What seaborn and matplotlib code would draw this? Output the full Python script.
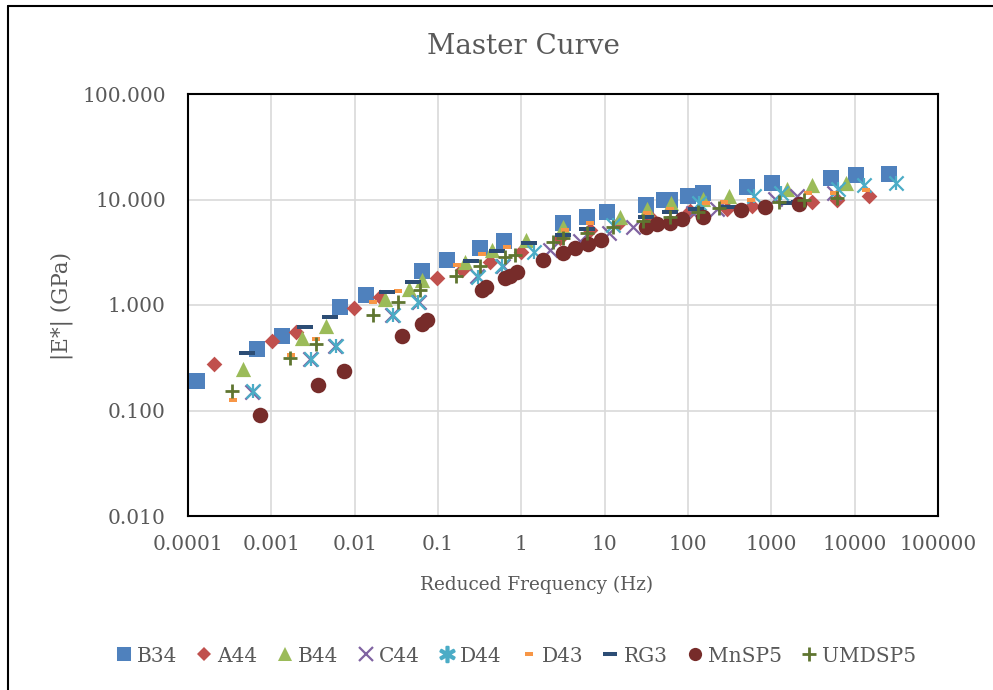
import numpy as np
import pandas as pd
import matplotlib
matplotlib.use('Agg')
import matplotlib.pyplot as plt
from matplotlib.lines import Line2D
import seaborn as sns

# reduced frequency (Hz) and |E*| (GPa) for each mix
b34_f = [1.3e-4, 6.7e-4, 1.33e-3, 6.6e-3, 0.0135, 0.065, 0.129, 0.32, 0.62, 3.15, 6.1, 10.6,
         31, 51, 61.5, 101, 153, 513, 1020, 5190, 10300, 25700]
b34_e = [0.19, 0.38, 0.51, 0.95, 1.24, 2.08, 2.65, 3.44, 4.0, 5.93, 6.76, 7.54,
         8.78, 9.8, 9.8, 10.7, 11.4, 13.0, 14.2, 16.1, 16.9, 17.6]

a44_f = [2.05e-4, 1.01e-3, 1.96e-3, 0.00995, 0.0204, 0.098, 0.195, 0.42, 1.0, 2.9, 6.6,
         15, 35, 105, 295, 590, 3100, 6200, 14800]
a44_e = [0.275, 0.454, 0.56, 0.93, 1.18, 1.79, 2.13, 2.54, 3.15, 4.3, 5.1,
         6.05, 6.9, 7.7, 8.2, 8.6, 9.4, 9.8, 10.7]

b44_f = [4.55e-4, 2.31e-3, 4.48e-3, 0.0233, 0.0453, 0.065, 0.211, 0.445, 1.13, 3.15,
         15.1, 31.8, 63, 153, 313, 1545, 3080, 7850]
b44_e = [0.247, 0.484, 0.63, 1.13, 1.41, 1.71, 2.54, 3.29, 4.1, 5.43,
         6.9, 8.04, 9.17, 10.2, 10.9, 12.7, 13.6, 14.2]

c44_f = [5.8e-4, 2.88e-3, 5.73e-3, 0.0283, 0.0596, 0.294, 0.603, 2.2, 5.0, 11.2, 21.6,
         116, 225, 1110, 2040, 5620]
c44_e = [0.149, 0.306, 0.407, 0.80, 1.06, 1.87, 2.32, 3.29, 4.0, 4.77, 5.43,
         7.38, 8.04, 10.2, 10.9, 11.6]

d44_f = [6.0e-4, 2.96e-3, 5.9e-3, 0.0291, 0.058, 0.303, 0.586, 1.42, 12.5, 137, 622,
         1310, 6300, 12900, 31100]
d44_e = [0.153, 0.306, 0.407, 0.80, 1.06, 1.83, 2.32, 3.15, 5.68, 9.17, 10.7,
         11.4, 12.7, 13.6, 14.2]

d43_f = [3.45e-4, 1.71e-3, 3.4e-3, 0.0168, 0.0334, 0.17, 0.338, 0.673, 3.33, 6.62,
         31.8, 61.5, 166, 272, 573, 2760, 5630, 13600]
d43_e = [0.125, 0.334, 0.473, 1.06, 1.35, 2.38, 3.02, 3.52, 5.09, 5.93,
         7.38, 8.04, 9.17, 9.37, 10.0, 11.4, 11.6, 12.2]

rg3_f = [5.08e-4, 2.51e-3, 5.0e-3, 0.0247, 0.0505, 0.249, 0.51, 1.23, 3.15, 6.1,
         31, 61.5, 126, 313, 1545, 2150]
rg3_e = [0.349, 0.615, 0.765, 1.32, 1.64, 2.59, 3.22, 3.84, 4.56, 5.2,
         6.76, 7.54, 8.04, 8.4, 9.17, 9.37]

mnsp5_f = [7.26e-4, 3.59e-3, 7.35e-3, 0.0373, 0.0647, 0.0743, 0.338, 0.378, 0.637, 0.73,
           0.885, 1.81, 3.15, 4.38, 6.26, 8.96, 31, 41.9, 61.5, 85.7, 153, 435, 844, 2150]
mnsp5_e = [0.0904, 0.174, 0.236, 0.506, 0.657, 0.716, 1.38, 1.47, 1.79, 1.87,
           2.04, 2.65, 3.08, 3.44, 3.75, 4.09, 5.43, 5.8, 6.05, 6.47, 6.9, 7.87, 8.4, 8.97]

umdsp5_f = [3.36e-4, 1.66e-3, 3.4e-3, 0.0168, 0.0334, 0.0612, 0.165, 0.32, 0.637, 0.838,
            2.39, 3.15, 6.1, 12.5, 28.5, 61.5, 133, 238, 1240, 2470, 6120]
umdsp5_e = [0.153, 0.313, 0.425, 0.80, 1.06, 1.38, 1.87, 2.32, 2.82, 2.95,
            3.92, 4.27, 4.77, 5.43, 6.19, 6.9, 7.69, 8.22, 9.57, 10.0, 10.4]

series_names = ['B34', 'A44', 'B44', 'C44', 'D44', 'D43', 'RG3', 'MnSP5', 'UMDSP5']
series_f = [b34_f, a44_f, b44_f, c44_f, d44_f, d43_f, rg3_f, mnsp5_f, umdsp5_f]
series_e = [b34_e, a44_e, b44_e, c44_e, d44_e, d43_e, rg3_e, mnsp5_e, umdsp5_e]

x_ticks = [1e-4, 1e-3, 1e-2, 1e-1, 1, 10, 100, 1000, 10000, 100000]
x_ticklabels = ['0.0001', '0.001', '0.01', '0.1', '1', '10', '100', '1000', '10000', '100000']
y_ticks = [0.01, 0.1, 1, 10, 100]
y_ticklabels = ['0.010', '0.100', '1.000', '10.000', '100.000']

# marker styles (Excel 2010 palette / default marker cycle)
long_dash = [(-1, -0.25), (1, -0.25), (1, 0.25), (-1, 0.25)]
short_dash = [(-1, -0.5), (1, -0.5), (1, 0.5), (-1, 0.5)]
styles = {
    'B34':    dict(marker='s', s=125, color='#4F81BD', lw=0),
    'A44':    dict(marker='D', s=64, color='#C0504D', lw=0),
    'B44':    dict(marker='^', s=120, color='#9BBB59', lw=0),
    'C44':    dict(marker='x', s=105, color='#8064A2', lw=1.6),
    'D44':    dict(marker='x', s=105, color='#4BACC6', lw=1.6),
    'D43':    dict(marker=short_dash, s=34, color='#F79646', lw=0),
    'RG3':    dict(marker=long_dash, s=135, color='#2C4D75', lw=0),
    'MnSP5':  dict(marker='o', s=125, color='#772C2A', lw=0),
    'UMDSP5': dict(marker='+', s=105, color='#5F7530', lw=2.0),
}

sns.set_style('white')
plt.rcParams['font.family'] = ['DejaVu Serif']
text_col = '#595959'

fig = plt.figure(figsize=(9.93, 6.9), dpi=100)
ax = fig.add_axes([188 / 993, 1 - 516 / 690, 750 / 993, 422 / 690])

for i, name in enumerate(series_names):
    df = pd.DataFrame({'freq': series_f[i], 'E': series_e[i]})
    st = styles[name]
    if st['lw'] == 0:
        sns.scatterplot(data=df, x='freq', y='E', marker=st['marker'], s=st['s'],
                        color=st['color'], edgecolor=st['color'], linewidth=0,
                        ax=ax, zorder=3 + i, legend=False)
    else:
        sns.scatterplot(data=df, x='freq', y='E', marker=st['marker'], s=st['s'],
                        color=st['color'], linewidth=st['lw'],
                        ax=ax, zorder=3 + i, legend=False)
    if name == 'D44':
        # star marker = x with a vertical bar
        sns.scatterplot(data=df, x='freq', y='E', marker='|', s=st['s'],
                        color=st['color'], linewidth=st['lw'],
                        ax=ax, zorder=3 + i, legend=False)

ax.set_xscale('log')
ax.set_yscale('log')
ax.set_xlim(1e-4, 1e5)
ax.set_ylim(0.01, 100)
ax.set_xticks(x_ticks)
ax.set_xticklabels(x_ticklabels)
ax.set_yticks(y_ticks)
ax.set_yticklabels(y_ticklabels)
ax.minorticks_off()
ax.tick_params(axis='x', length=0, pad=14, labelsize=14.5, labelcolor=text_col)
ax.tick_params(axis='y', length=0, pad=16, labelsize=14.5, labelcolor=text_col)
ax.grid(True, which='major', color='#D9D9D9', lw=1.2)
ax.set_axisbelow(True)
for sp in ax.spines.values():
    sp.set_color('black')
    sp.set_linewidth(1.5)
ax.set_xlabel('')
ax.set_ylabel('')

fig.text(523 / 993, 1 - 46 / 690, 'Master Curve', ha='center', va='center',
         fontsize=20, color=text_col)
fig.text(537 / 993, 1 - 585 / 690, 'Reduced Frequency (Hz)', ha='center', va='center',
         fontsize=13.3, color=text_col)
fig.text(62 / 993, 1 - 306 / 690, '|E*| (GPa)', ha='center', va='center',
         rotation=90, fontsize=15.5, color=text_col)

handles = []
for name in series_names:
    st = styles[name]
    mk = st['marker']
    ms = 9.5
    if name == 'A44':
        ms = 7
    if name == 'D44':
        mk = '$\\ast$'
        ms = 11
    if name == 'D43':
        ms = 6
    handles.append(Line2D([], [], ls='none', marker=mk, markersize=ms,
                          color=st['color'], markeredgecolor=st['color'],
                          markeredgewidth=max(st['lw'], 0.01)))
leg = fig.legend(handles, series_names, loc='center', bbox_to_anchor=(516 / 993, 1 - 656 / 690),
                 ncol=9, frameon=False, fontsize=14.5, handlelength=0.8,
                 handletextpad=0.25, columnspacing=0.95)
for t in leg.get_texts():
    t.set_color(text_col)

# chart area border
fig.add_artist(Line2D([8 / 993, 8 / 993], [0, 1 - 6 / 690], transform=fig.transFigure,
                      color='black', lw=1.5))
fig.add_artist(Line2D([8 / 993, 1], [1 - 6 / 690, 1 - 6 / 690], transform=fig.transFigure,
                      color='black', lw=1.5))

fig.savefig('out.png', dpi=100)
